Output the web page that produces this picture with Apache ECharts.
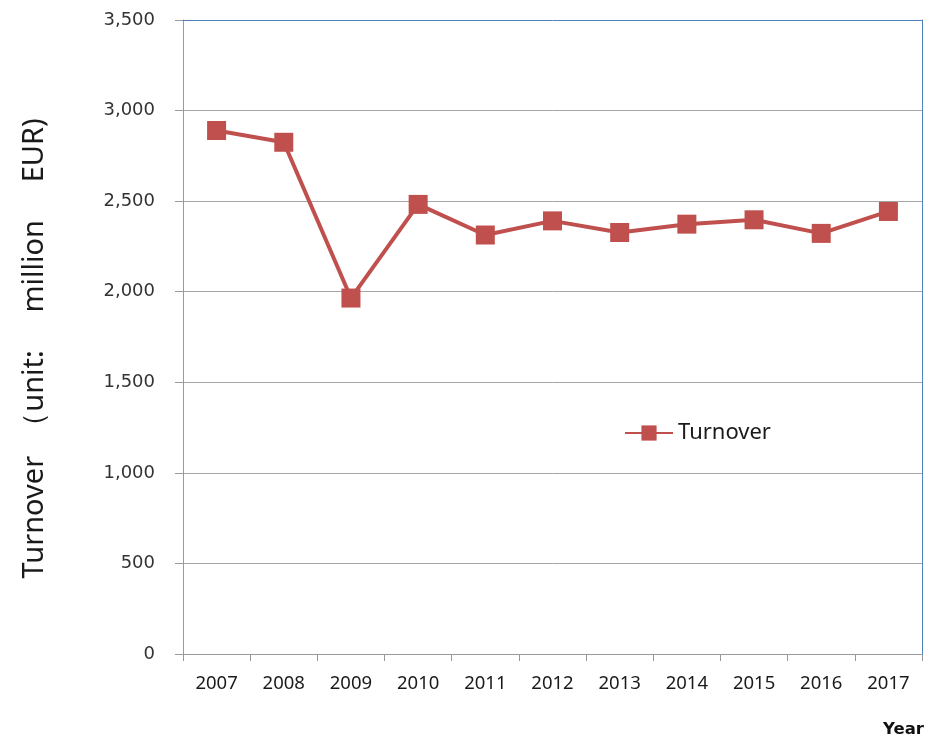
<!DOCTYPE html>
<html>
<head>
<meta charset="utf-8">
<script src="https://cdn.jsdelivr.net/npm/echarts@6/dist/echarts.min.js"></script>
<style>html,body{margin:0;padding:0;background:#fff;}#c{width:936px;height:738px;}</style>
</head>
<body>
<div id="c"></div>
<script>
const years = ['2007','2008','2009','2010','2011','2012','2013','2014','2015','2016','2017'];
const turnover = [2890, 2825, 1965, 2482, 2313, 2391, 2327, 2373, 2397, 2322, 2443];
const seriesName = 'Turnover';
const yTitle = 'Turnover  \uFF08unit:     million     EUR)   ';
const xTitle = 'Year';

const chart = echarts.init(document.getElementById('c'));
chart.setOption({
  animation: false,
  backgroundColor: '#fff',
  grid: { left: 183, right: 14, top: 20, bottom: 83, containLabel: false },
  legend: {
    left: 619, top: 417,
    itemWidth: 48, itemHeight: 19, itemGap: 8,
    textStyle: { fontFamily: 'Noto Sans', fontSize: 22, color: '#1a1a1a' },
    data: [seriesName]
  },
  xAxis: [{
    type: 'category',
    data: years,
    boundaryGap: true,
    axisLine: { lineStyle: { color: '#9a9a9a', width: 1 } },
    axisTick: { show: true, length: 7, lineStyle: { color: '#9a9a9a' } },
    axisLabel: { margin: 20, fontFamily: 'Noto Sans', fontSize: 18.5, color: '#1a1a1a' },
    name: xTitle,
    nameLocation: 'end',
    nameGap: 0,
    nameTextStyle: { fontFamily: 'DejaVu Sans', fontWeight: 'bold', fontSize: 16.5, color: '#111', align: 'right', verticalAlign: 'top', padding: [67, -2, 0, 0] }
  }, {
    type: 'category',
    position: 'top',
    data: years,
    axisLine: { onZero: false, lineStyle: { color: '#4F81BD', width: 1 } },
    axisTick: { show: false },
    axisLabel: { show: false },
    z: 5
  }],
  yAxis: [{
    type: 'value',
    min: 0, max: 3500, interval: 500,
    axisLine: { show: true, lineStyle: { color: '#9a9a9a', width: 1 } },
    axisTick: { show: true, length: 8, lineStyle: { color: '#9a9a9a' } },
    splitLine: { show: true, showMaxLine: false, lineStyle: { color: '#a6a6a6', width: 1 } },
    axisLabel: {
      margin: 28, fontFamily: 'DejaVu Sans', fontSize: 18, color: '#333',
      formatter: v => v.toLocaleString('en-US')
    },
    name: yTitle,
    nameLocation: 'middle',
    nameGap: 134,
    nameRotate: 90,
    nameTextStyle: { fontFamily: 'Noto Sans', fontSize: 29, color: '#1a1a1a' }
  }, {
    type: 'value',
    position: 'right',
    min: 0, max: 3500, interval: 500,
    axisLine: { show: true, onZero: false, lineStyle: { color: '#4F81BD', width: 1 } },
    axisTick: { show: false },
    axisLabel: { show: false },
    splitLine: { show: false },
    z: 5
  }],
  series: [{
    name: seriesName,
    type: 'line',
    data: turnover,
    symbol: 'rect',
    symbolSize: 19,
    lineStyle: { color: '#C0504D', width: 4 },
    itemStyle: { color: '#C0504D' },
    z: 10
  }]
});
</script>
</body>
</html>
